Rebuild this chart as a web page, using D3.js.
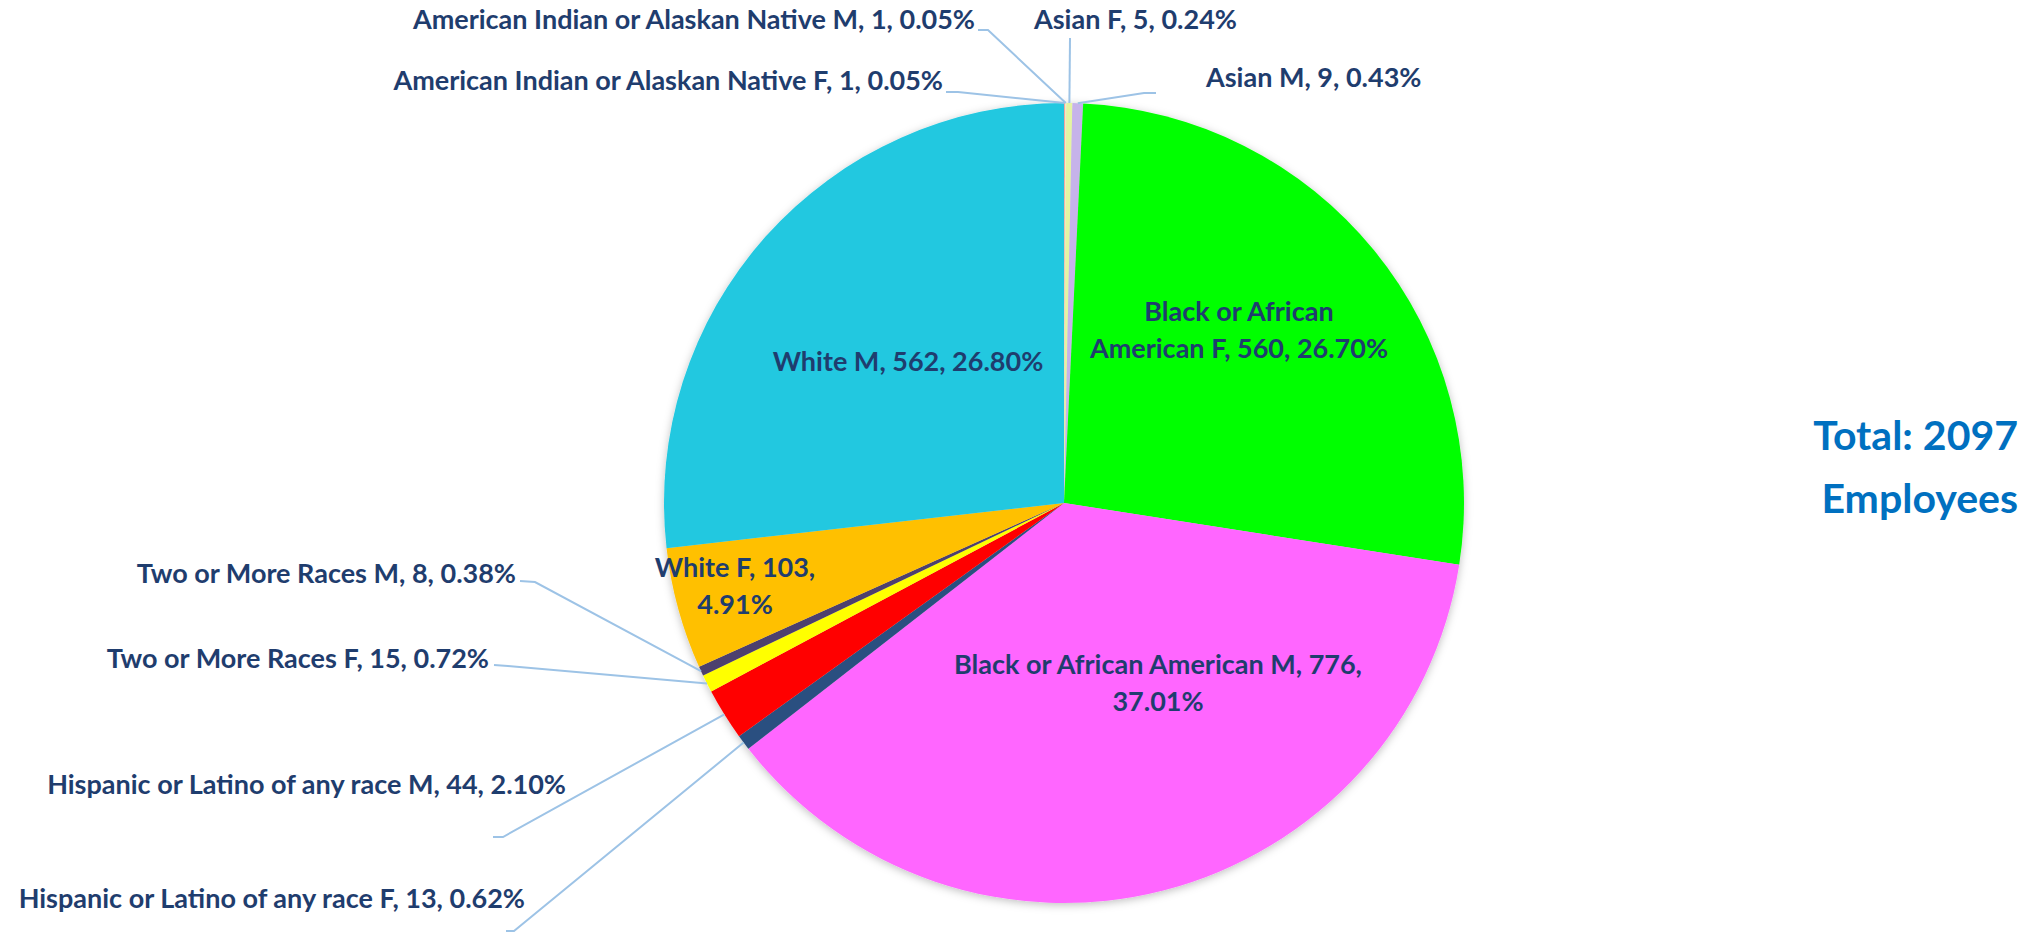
<!DOCTYPE html>
<html>
<head>
<meta charset="utf-8">
<script src="https://cdn.jsdelivr.net/npm/d3@7.9.0/dist/d3.min.js"></script>
<style>
  html, body { margin: 0; padding: 0; background: #fff; }
  svg { display: block; }
  text { font-family: "Lato", "Open Sans", sans-serif; font-weight: 700; }
</style>
</head>
<body>
<svg id="chart" width="2034" height="937"></svg>
<script>
// ============= DATA ==================

const names = [
  "American Indian or Alaskan Native F",
  "American Indian or Alaskan Native M",
  "Asian F",
  "Asian M",
  "Black or African American F",
  "Black or African American M",
  "Hispanic or Latino of any race F",
  "Hispanic or Latino of any race M",
  "Two or More Races F",
  "Two or More Races M",
  "White F",
  "White M"
];
const counts = [1, 1, 5, 9, 560, 776, 13, 44, 15, 8, 103, 562];
const colors = [
  "#f4a3a0", "#f2f2c0", "#e4f5a2", "#c6b3ea", "#00ff00", "#ff66ff",
  "#2b4f80", "#ff0000", "#ffff00", "#4e3f6e", "#ffc000", "#20c8e0"
];
const totalLabel = ["Total: 2097", "Employees"];

// ============= LAYOUT ==================

const cx = 1064, cy = 503, R = 400;
const labelColor = "#1f3d6e";
const lineColor = "#9dc3e6";

// label placement per slice: x, y (first baseline), anchor, optional word break, leader points
const layout = {
  "American Indian or Alaskan Native F": { x: 943, y: 90, anchor: "end", leader: [[946, 92], [958, 92]] },
  "American Indian or Alaskan Native M": { x: 975, y: 29, anchor: "end", leader: [[978, 30], [988, 30]] },
  "Asian F": { x: 1034, y: 29, anchor: "start", leader: [[1070, 38]] },
  "Asian M": { x: 1206, y: 87, anchor: "start", leader: [[1156, 93], [1144, 93]] },
  "Black or African American F": { x: 1239, y: 321, anchor: "middle", brk: 3, inside: true },
  "Black or African American M": { x: 1158, y: 674, anchor: "middle", brk: 6, inside: true },
  "Hispanic or Latino of any race F": { x: 525, y: 908, anchor: "end", leader: [[506, 931], [514, 931]] },
  "Hispanic or Latino of any race M": { x: 566, y: 794, anchor: "end", leader: [[493, 837], [503, 837]] },
  "Two or More Races F": { x: 489, y: 668, anchor: "end", leader: [[494, 665], [508, 666]] },
  "Two or More Races M": { x: 516, y: 583, anchor: "end", leader: [[520, 581], [535, 582]] },
  "White F": { x: 735, y: 577, anchor: "middle", brk: 3, inside: true },
  "White M": { x: 908, y: 371, anchor: "middle", inside: true }
};

const total = d3.sum(counts);
const pctFmt = d3.format(".2%");
const data = names.map((name, i) => ({
  name,
  count: counts[i],
  color: colors[i],
  label: `${name}, ${counts[i]}, ${pctFmt(counts[i] / total)}`
}));

// ============= PIE ==================

const svg = d3.select("#chart");

const defs = svg.append("defs");
const shadow = defs.append("filter").attr("id", "shadow")
  .attr("x", "-10%").attr("y", "-10%").attr("width", "120%").attr("height", "120%");
shadow.append("feDropShadow")
  .attr("dx", 0).attr("dy", 2).attr("stdDeviation", 4)
  .attr("flood-color", "#000").attr("flood-opacity", 0.25);

const pie = d3.pie().sort(null).value(d => d.count);
const arcs = pie(data);
const arc = d3.arc().innerRadius(0).outerRadius(R);
const edge = d3.arc().innerRadius(R).outerRadius(R);

const g = svg.append("g").attr("transform", `translate(${cx},${cy})`);

g.append("g").attr("filter", "url(#shadow)")
  .selectAll("path")
  .data(arcs)
  .join("path")
  .attr("d", arc)
  .attr("fill", d => d.data.color);

// ============= LEADER LINES ==================

const line = d3.line();
svg.append("g")
  .selectAll("path")
  .data(arcs.filter(d => !layout[d.data.name].inside))
  .join("path")
  .attr("d", d => {
    const c = edge.centroid(d);
    const pts = layout[d.data.name].leader.concat([[cx + c[0], cy + c[1]]]);
    return line(pts);
  })
  .attr("fill", "none")
  .attr("stroke", lineColor)
  .attr("stroke-width", 2);

// ============= LABELS ==================

const labels = svg.append("g")
  .selectAll("text")
  .data(data)
  .join("text")
  .attr("fill", labelColor)
  .attr("font-size", 27)
  .attr("text-anchor", d => layout[d.name].anchor)
  .attr("x", d => layout[d.name].x)
  .attr("y", d => layout[d.name].y);

labels.each(function (d) {
  const L = layout[d.name];
  const words = d.label.split(" ");
  const lines = L.brk ? [words.slice(0, L.brk).join(" "), words.slice(L.brk).join(" ")] : [d.label];
  d3.select(this).selectAll("tspan")
    .data(lines)
    .join("tspan")
    .attr("x", L.x)
    .attr("dy", (t, i) => i ? 37 : 0)
    .text(t => t);
});

// ============= TOTAL ==================

svg.append("text")
  .attr("text-anchor", "end")
  .attr("fill", "#0070c0")
  .attr("font-size", 41)
  .selectAll("tspan")
  .data(totalLabel)
  .join("tspan")
  .attr("x", 2018)
  .attr("y", (t, i) => 450 + i * 63)
  .text(t => t);
</script>
</body>
</html>
